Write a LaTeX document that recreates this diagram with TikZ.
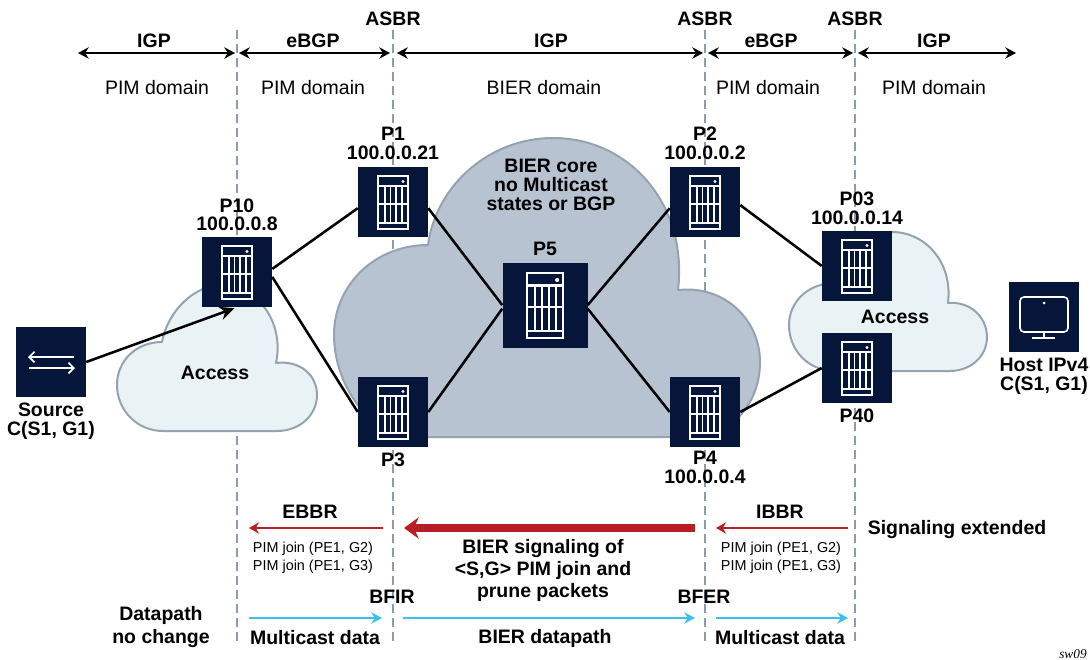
\documentclass[tikz,border=0pt]{standalone}
\usepackage{fontspec}
\setmainfont{Liberation Sans}
\newfontfamily\swfont{Liberation Serif}
\usetikzlibrary{arrows.meta, positioning}

\definecolor{navy}{HTML}{05163A}
\definecolor{boundary}{HTML}{8C9CAB}
\definecolor{coregrey}{HTML}{B8C3D2}
\definecolor{accessblue}{HTML}{E9F2F5}
\definecolor{cloudline}{HTML}{94A3AF}
\definecolor{sigred}{HTML}{B81E24}
\definecolor{datablue}{HTML}{3BBEF0}

% white rack drawn on a device box
\newcommand{\servericon}[2]{
  \begin{scope}[shift={(#1)},scale=#2,draw=white,line width=#2*1.3pt]
    \draw (-15,-26) rectangle (15,27);
    \draw (-15,-16) -- (15,-16);
    \draw (-15,21) -- (15,21);
    \draw (-15,2) -- (15,2);
    \foreach \x in {-8.3,-2.5,3.2,9}
      \draw (\x,-16) -- (\x,21);
    \fill[white] (10,-20.5) circle (1.7);
  \end{scope}
}

\begin{document}
\begin{tikzpicture}[x=0.75pt, y=-0.75pt, >=Stealth]
    % Styles
    \tikzstyle{device} = [rectangle, fill=navy, minimum size=52.5pt, inner sep=0pt]
    \tikzstyle{bigdevice} = [device, minimum size=63.75pt]
    \tikzstyle{lbl} = [inner sep=0pt, align=center, font=\fontsize{14.6}{14.2}\selectfont\bfseries]
    \tikzstyle{plain} = [inner sep=0pt, align=center, font=\fontsize{14.6}{14.2}\selectfont]
    \tikzstyle{small} = [inner sep=0pt, align=center, font=\fontsize{10.8}{13.2}\selectfont]
    \tikzstyle{boundaryline} = [boundary, line width=1.1pt, dash pattern=on 6.5pt off 4pt]
    \tikzstyle{link} = [black, line width=1.9pt]
    \tikzstyle{span} = [black, line width=1.5pt, {Stealth[length=8pt,width=8.5pt]}-{Stealth[length=8pt,width=8.5pt]}]
    \tikzstyle{redarrow} = [sigred, line width=1.3pt, -{Stealth[length=7.5pt,width=8.5pt]}]
    \tikzstyle{bigred} = [sigred, line width=5.5pt, -{Stealth[length=11pt,width=16pt]}]
    \tikzstyle{bluearrow} = [datablue, line width=1.5pt, -{Stealth[length=8pt,width=8.5pt]}]
    \tikzstyle{cloudshape} = [draw=cloudline, line width=1.5pt, line join=round]

    \useasboundingbox (0,0) rectangle (1090,660);

    % Domain boundaries
    \draw[boundaryline] (237,30) -- (237,645);
    \draw[boundaryline] (393,30) -- (393,645);
    \draw[boundaryline] (705,30) -- (705,645);
    \draw[boundaryline] (855,30) -- (855,645);

    % Clouds
    \draw[cloudshape, fill=coregrey] (428,245)
      .. controls (436,185) and (490,138) .. (553,138)
      .. controls (630,138) and (688,205) .. (678,290)
      .. controls (725,285) and (760,320) .. (760,362)
      .. controls (760,405) and (730,437) .. (690,437)
      -- (415,437)
      .. controls (370,437) and (334,385) .. (334,335)
      .. controls (334,285) and (375,245) .. (428,245) -- cycle;
    \draw[cloudshape, fill=accessblue] (162,342)
      .. controls (168,310) and (195,285) .. (222,285)
      .. controls (255,285) and (285,320) .. (276,363)
      .. controls (300,360) and (317,375) .. (317,395)
      .. controls (317,415) and (300,431) .. (277,431)
      -- (163,431)
      .. controls (137,431) and (117,410) .. (117,385)
      .. controls (117,360) and (137,342) .. (162,342) -- cycle;
    \draw[cloudshape, fill=accessblue] (835,283)
      .. controls (845,250) and (865,232) .. (892,232)
      .. controls (925,232) and (953,262) .. (948,303)
      .. controls (970,301) and (987,317) .. (987,337)
      .. controls (987,357) and (970,371) .. (950,371)
      -- (835,371)
      .. controls (808,371) and (789,350) .. (789,325)
      .. controls (789,302) and (808,283) .. (835,283) -- cycle;

    % Nodes
    \node[device] (source) at (51,362) {};
    \node[device] (p10) at (237,272) {};
    \node[device] (p1) at (393,202) {};
    \node[device] (p3) at (393,412) {};
    \node[bigdevice] (p5) at (545,305) {};
    \node[device] (p2) at (705,202) {};
    \node[device] (p4) at (705,412) {};
    \node[device] (p03) at (857,266) {};
    \node[device] (p40) at (857,368) {};
    \node[device] (host) at (1044,317) {};

    \servericon{p10.center}{1}
    \servericon{p1.center}{1}
    \servericon{p3.center}{1}
    \servericon{p5.center}{1.22}
    \servericon{p2.center}{1}
    \servericon{p4.center}{1}
    \servericon{p03.center}{1}
    \servericon{p40.center}{1}

    % Source and host icons
    \begin{scope}[shift={(source.center)}, white, line width=1.2pt]
      \draw[-{Straight Barb[length=4pt,width=8pt]}] (23,-5) -- (-23,-5);
      \draw[-{Straight Barb[length=4pt,width=8pt]}] (-22,6) -- (24,6);
    \end{scope}
    \begin{scope}[shift={(host.center)}, white, line width=1.2pt]
      \draw[rounded corners=3pt] (-24,-20) rectangle (24,15);
      \fill (0,-14) circle (1.5);
      \draw (0,15) -- (0,21);
      \draw (-12,21) -- (11,21);
    \end{scope}

    % Paths
    \draw[link] (p10.5) -- (p1.190);
    \draw[link] (p10.-8) -- (p3.west);
    \draw[link] (p1.-10) -- (p5.west);
    \draw[link] (p3.east) -- (p5.185);
    \draw[link] (p5.east) -- (p2.190);
    \draw[link] (p5.-5) -- (p4.west);
    \draw[link] (p2.-5) -- (p03.west);
    \draw[link] (p4.east) -- (p40.west);
    \draw[link, -{Stealth[length=11pt,width=10pt]}, shorten >=2pt] (source.east) -- (p10.south);

    % Device labels
    \node[lbl, above=5pt of p1] (p1lbl) {P1\\100.0.0.21};
    \node[lbl, above=4pt of p10] (p10lbl) {P10\\100.0.0.8};
    \node[lbl, above=5pt of p2] (p2lbl) {P2\\100.0.0.2};
    \node[lbl, above=4.5pt of p03] (p03lbl) {P03\\100.0.0.14};
    \node[lbl, above=5pt of p5] (p5lbl) {P5};
    \node[lbl, below=4pt of p3] (p3lbl) {P3};
    \node[lbl, below=3pt of p4] (p4lbl) {P4\\100.0.0.4};
    \node[lbl, below=4pt of p40] (p40lbl) {P40};
    \node[lbl, below=4pt of source] (sourcelbl) {Source\\C(S1, G1)};
    \node[lbl, below=4pt of host] (hostlbl) {Host IPv4\\C(S1, G1)};
    \node[lbl] (corelbl) at (551,185) {BIER core\\no Multicast\\states or BGP};
    \node[lbl] (access1) at (215,373) {Access};
    \node[lbl] (access2) at (895,317) {Access};

    % Top band
    \node[lbl] (asbr1) at (393,19) {ASBR};
    \node[lbl] (asbr2) at (705,19) {ASBR};
    \node[lbl] (asbr3) at (855,19) {ASBR};
    \coordinate (t0) at (78,53);
    \coordinate (t1a) at (235,53);
    \coordinate (t1b) at (239,53);
    \coordinate (t2a) at (390,53);
    \coordinate (t2b) at (397,53);
    \coordinate (t3a) at (703,53);
    \coordinate (t3b) at (708,53);
    \coordinate (t4a) at (853,53);
    \coordinate (t4b) at (858,53);
    \coordinate (t5) at (1016,53);
    \draw[span] (t0) -- (t1a);
    \draw[span] (t1b) -- (t2a);
    \draw[span] (t2b) -- (t3a);
    \draw[span] (t3b) -- (t4a);
    \draw[span] (t4b) -- (t5);
    \node[lbl] (igp1) at (154,41) {IGP};
    \node[lbl] (ebgp1) at (313,41) {eBGP};
    \node[lbl] (igp2) at (551,41) {IGP};
    \node[lbl] (ebgp2) at (771,41) {eBGP};
    \node[lbl] (igp3) at (934,41) {IGP};
    \node[plain] (dom1) at (157,88) {PIM domain};
    \node[plain] (dom2) at (313,88) {PIM domain};
    \node[plain] (dom3) at (544,88) {BIER domain};
    \node[plain] (dom4) at (768,88) {PIM domain};
    \node[plain] (dom5) at (934,88) {PIM domain};

    % Signaling band
    \coordinate (r1a) at (383,528);
    \coordinate (r1b) at (249,528);
    \coordinate (r2a) at (695,528);
    \coordinate (r2b) at (404,528);
    \coordinate (r3a) at (848,528);
    \coordinate (r3b) at (716,528);
    \draw[redarrow] (r1a) -- (r1b);
    \draw[bigred] (r2a) -- (r2b);
    \draw[redarrow] (r3a) -- (r3b);
    \node[lbl] (ebbr) at (310,512) {EBBR};
    \node[lbl] (ibbr) at (780,512) {IBBR};
    \node[small] (join1) at (313,558) {PIM join (PE1, G2)\\PIM join (PE1, G3)};
    \node[small] (join2) at (781,558) {PIM join (PE1, G2)\\PIM join (PE1, G3)};
    \node[lbl, font=\fontsize{14.6}{16.8}\selectfont\bfseries] (bierlbl) at (543,570.5) {BIER signaling of\\<S,G> PIM join and\\prune packets};
    \node[lbl] (extlbl) at (957,530) {Signaling extended};

    % Datapath band
    \coordinate (b1a) at (249,618);
    \coordinate (b1b) at (382,618);
    \coordinate (b2a) at (403,618);
    \coordinate (b2b) at (695,618);
    \coordinate (b3a) at (716,618);
    \coordinate (b3b) at (848,618);
    \draw[bluearrow] (b1a) -- (b1b);
    \draw[bluearrow] (b2a) -- (b2b);
    \draw[bluearrow] (b3a) -- (b3b);
    \node[lbl, font=\fontsize{14.6}{17}\selectfont\bfseries] (nochange) at (161,627) {Datapath\\no change};
    \node[lbl] (bfir) at (392,597) {BFIR};
    \node[lbl] (bfer) at (704,597) {BFER};
    \node[lbl] (mc1) at (315,638) {Multicast data};
    \node[lbl] (bierdp) at (545,638) {BIER datapath};
    \node[lbl] (mc2) at (780,638) {Multicast data};
    \node[inner sep=0pt, font=\fontsize{10}{10}\selectfont\swfont\itshape] (sw) at (1073,654) {sw09};
\end{tikzpicture}
\end{document}
